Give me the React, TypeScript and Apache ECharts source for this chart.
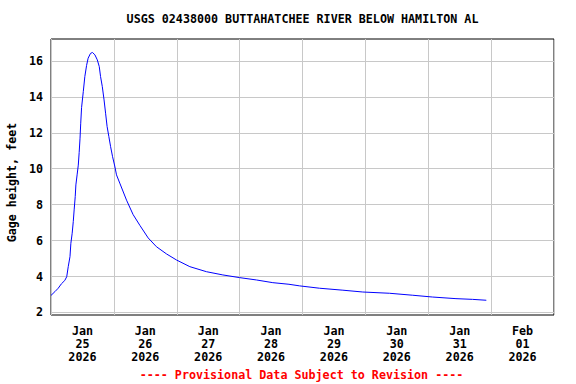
import React, { useEffect, useRef } from "react";
import * as echarts from "echarts";

const titleText = "USGS 02438000 BUTTAHATCHEE RIVER BELOW HAMILTON AL";
const yAxisName = "Gage height, feet";
const footerText = "---- Provisional Data Subject to Revision ----";

const dayLabels = [
  "Jan\n25\n2026",
  "Jan\n26\n2026",
  "Jan\n27\n2026",
  "Jan\n28\n2026",
  "Jan\n29\n2026",
  "Jan\n30\n2026",
  "Jan\n31\n2026",
  "Feb\n01\n2026",
];

const yTicks = [2, 4, 6, 8, 10, 12, 14, 16];

const times = [
  "2026-01-25 00:00", "2026-01-25 01:30", "2026-01-25 02:45", "2026-01-25 04:00",
  "2026-01-25 05:15", "2026-01-25 06:00", "2026-01-25 06:35", "2026-01-25 07:15",
  "2026-01-25 07:35", "2026-01-25 08:05", "2026-01-25 08:30", "2026-01-25 08:50",
  "2026-01-25 09:15", "2026-01-25 09:30", "2026-01-25 10:00", "2026-01-25 10:25",
  "2026-01-25 10:45", "2026-01-25 11:05", "2026-01-25 11:20", "2026-01-25 11:40",
  "2026-01-25 12:20", "2026-01-25 12:55", "2026-01-25 13:35", "2026-01-25 14:10",
  "2026-01-25 15:05", "2026-01-25 15:50", "2026-01-25 16:45", "2026-01-25 17:40",
  "2026-01-25 18:25", "2026-01-25 18:55", "2026-01-25 19:35", "2026-01-25 20:15",
  "2026-01-25 20:50", "2026-01-25 21:25", "2026-01-25 22:05", "2026-01-25 22:45",
  "2026-01-25 23:30", "2026-01-26 00:20", "2026-01-26 01:00", "2026-01-26 02:15",
  "2026-01-26 04:50", "2026-01-26 07:20", "2026-01-26 09:55", "2026-01-26 13:05",
  "2026-01-26 16:15", "2026-01-26 20:05", "2026-01-26 23:55", "2026-01-27 05:00",
  "2026-01-27 11:20", "2026-01-27 17:35", "2026-01-28 00:00", "2026-01-28 06:25",
  "2026-01-28 12:40", "2026-01-28 18:50", "2026-01-28 22:55", "2026-01-29 06:30",
  "2026-01-29 15:25", "2026-01-29 23:00", "2026-01-30 09:10", "2026-01-30 18:05",
  "2026-01-31 01:40", "2026-01-31 10:35", "2026-01-31 16:55", "2026-01-31 22:10",
];

const gageHeight = [
  2.95, 3.16, 3.35, 3.6,
  3.78, 3.99, 4.55, 5.11,
  5.85, 6.41, 7.06, 7.71,
  8.45, 9.1, 9.7, 10.2,
  10.9, 11.7, 12.5, 13.4,
  14.3, 15.13, 15.75, 16.15,
  16.42, 16.47, 16.34, 16.06,
  15.69, 15.13, 14.57, 13.83,
  13.09, 12.35, 11.79, 11.23,
  10.67, 10.15, 9.66, 9.2,
  8.25, 7.45, 6.85, 6.15,
  5.66, 5.26, 4.92, 4.55,
  4.27, 4.09, 3.94, 3.81,
  3.66, 3.57, 3.48, 3.35,
  3.24, 3.14, 3.07, 2.96,
  2.86, 2.77, 2.73, 2.68,
];

const FONT = "'DejaVu Sans Mono', 'Liberation Mono', monospace";
const FS = 11.7;

export default function App() {
  const ref = useRef<HTMLDivElement>(null);

  useEffect(() => {
    if (!ref.current) return;
    const chart = echarts.init(ref.current, undefined, { renderer: "svg" });
    const seriesData = times.map((t, i) => [t, gageHeight[i]]);

    chart.setOption({
      animation: false,
      backgroundColor: "#ffffff",
      grid: {
        left: 51,
        top: 39,
        width: 503,
        height: 276,
        show: true,
        borderColor: "#000000",
        borderWidth: 1,
        backgroundColor: "transparent",
      },
      xAxis: [
        {
          type: "time",
          min: "2026-01-25 00:00",
          max: "2026-02-02 00:00",
          show: false,
        },
        {
          type: "category",
          data: dayLabels,
          boundaryGap: true,
          position: "bottom",
          axisLine: { show: false },
          axisTick: { show: false, interval: 0 },
          splitLine: {
            show: true,
            interval: 0,
            lineStyle: { color: "#c8c8c8", width: 1 },
          },
          axisLabel: {
            interval: 0,
            margin: 9,
            color: "#000",
            fontFamily: FONT,
            fontWeight: "bold",
            fontSize: FS,
            lineHeight: 13,
          },
        },
      ],
      yAxis: {
        type: "value",
        min: 1.86,
        max: 17.22,
        axisLine: { show: false },
        axisTick: { show: false, customValues: yTicks },
        splitLine: { show: false },
        axisLabel: {
          customValues: yTicks,
          margin: 8,
          color: "#000",
          fontFamily: FONT,
          fontWeight: "bold",
          fontSize: FS,
        },
      },
      series: [
        {
          type: "line",
          xAxisIndex: 0,
          data: [],
          z: 1,
          silent: true,
          markLine: {
            silent: true,
            symbol: "none",
            label: { show: false },
            lineStyle: { color: "#c8c8c8", width: 1, type: "solid" },
            data: yTicks.map((v) => ({ yAxis: v })),
          },
        },
        {
          type: "line",
          xAxisIndex: 0,
          data: seriesData,
          showSymbol: false,
          symbol: "none",
          z: 5,
          lineStyle: { color: "#0000ff", width: 1 },
        },
      ],
      graphic: [
        {
          type: "text",
          x: 302.5,
          y: 19,
          style: {
            text: titleText,
            fill: "#000",
            font: `bold ${FS}px ${FONT}`,
            textAlign: "center",
            textVerticalAlign: "middle",
          },
        },
        {
          type: "text",
          x: 12,
          y: 182.5,
          rotation: Math.PI / 2,
          style: {
            text: yAxisName,
            fill: "#000",
            font: `bold ${FS}px ${FONT}`,
            textAlign: "center",
            textVerticalAlign: "middle",
          },
        },
        {
          type: "text",
          x: 301.5,
          y: 375,
          style: {
            text: footerText,
            fill: "#ff0000",
            font: `bold ${FS}px ${FONT}`,
            textAlign: "center",
            textVerticalAlign: "middle",
          },
        },
      ],
    });

    return () => chart.dispose();
  }, []);

  return (
    <div
      ref={ref}
      style={{
        position: "fixed",
        left: 0,
        top: 0,
        width: 576,
        height: 384,
        background: "#fff",
      }}
    />
  );
}
